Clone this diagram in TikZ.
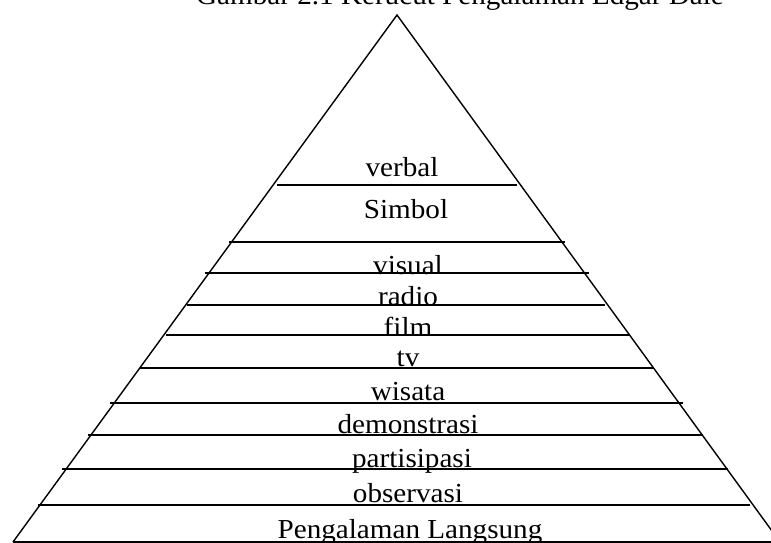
\documentclass[tikz,border=0pt]{standalone}
\usepackage{fontspec}
\setmainfont{Liberation Serif}
\tikzset{
  edge/.style={line width=1.4pt, black},
  lbl/.style={anchor=base, inner sep=0pt, outer sep=0pt, font=\fontsize{27.5}{30}\selectfont}
}
\newcommand{\wide}[1]{\scalebox{1.06}[1]{#1}}
\begin{document}
\begin{tikzpicture}[x=1pt, y=-1pt]
\useasboundingbox (0,0) rectangle (771,543);
\clip (0,0) rectangle (771,543);
% title
\node[lbl] (title) at (460,4.5) {\wide{Gambar 2.1 Kerucut Pengalaman Edgar Dale}};
% pyramid sides
\coordinate (apex) at (397,15);
\coordinate (bl) at (13,542);
\coordinate (br) at (780,542);
\draw[edge, line join=miter] (bl) -- (apex) -- (br);
% horizontal lines
\foreach \n/\y/\xa/\xb in {1/185/277/517, 2/242/229/565, 3/273/205/589, 4/305/187/605, 5/335/166/630, 6/368/140/654, 7/403/110/683, 8/435/88/703, 9/469/62/728, 10/505/38/750, 11/542/13/775}{
  \coordinate (l\n a) at (\xa,\y);
  \coordinate (l\n b) at (\xb,\y);
  \draw[edge] (l\n a) -- (l\n b);
}
% labels
\node[lbl] (verbal) at (402,176) {\wide{verbal}};
\node[lbl] (simbol) at (406,218) {\wide{Simbol}};
\node[lbl] (visual) at (408,274) {\wide{visual}};
\node[lbl] (radio) at (408,305) {\wide{radio}};
\node[lbl] (film) at (408,336) {\wide{film}};
\node[lbl] (tv) at (408,366) {\wide{tv}};
\node[lbl] (wisata) at (408,400) {\wide{wisata}};
\node[lbl] (demo) at (408,433) {\wide{demonstrasi}};
\node[lbl] (parti) at (412,467) {\wide{partisipasi}};
\node[lbl] (obs) at (408,502) {\wide{observasi}};
\node[lbl] (langsung) at (410,538) {\wide{Pengalaman Langsung}};
\end{tikzpicture}
\end{document}
